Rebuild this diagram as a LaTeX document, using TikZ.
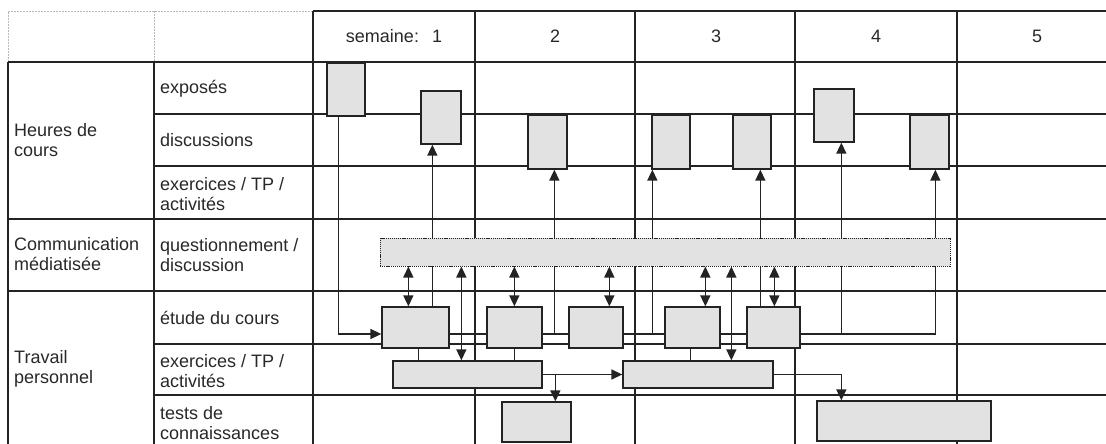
\documentclass[tikz,border=0pt]{standalone}
\usepackage{fontspec}
\setmainfont{Liberation Sans}
\usetikzlibrary{arrows.meta,calc,positioning}
\definecolor{ink}{RGB}{40,40,40}
\definecolor{rule}{RGB}{35,35,35}
\definecolor{shade}{RGB}{226,226,226}
\definecolor{faint}{RGB}{185,185,185}
\pgfdeclarelayer{bg}
\pgfsetlayers{bg,main}

\begin{document}
\begin{tikzpicture}[x=1pt,y=-1pt,
  grid/.style={rule,line width=1.3pt},
  faintline/.style={faint,line width=0.8pt,dash pattern=on 2pt off 1pt},
  lbl/.style={ink,anchor=west,align=left,inner sep=0pt,font=\fontsize{18}{20}\selectfont},
  hd/.style={ink,inner sep=0pt,font=\fontsize{18}{20}\selectfont},
  blk/.style={draw=rule,fill=shade,line width=1.3pt,inner sep=0pt},
  arr/.style={rule,line width=1.5pt,-{Triangle[length=11pt,width=10pt]}},
  dbl/.style={rule,line width=1.5pt,{Triangle[length=11pt,width=10pt]}-{Triangle[length=11pt,width=10pt]}},
  lnk/.style={rule,line width=1.5pt}]
\useasboundingbox (0,0) rectangle (1106,444);

% header
\node[hd] (w1) at (394,36) {semaine:\hspace{13pt}1};
\node[hd] (w2) at (555,36) {2};
\node[hd] (w3) at (716,36) {3};
\node[hd] (w4) at (876,36) {4};
\node[hd] (w5) at (1037,36) {5};

% row labels
\node[lbl] (lhc) at (14,140) {Heures de\\cours};
\node[lbl] (lcm) at (14,254) {Communication\\médiatisée};
\node[lbl] (ltp) at (14,369) {Travail\\personnel};
\node[lbl] (lex) at (160,89) {exposés};
\node[lbl] (ldi) at (160,140) {discussions};
\node[lbl] (lea) at (160,194) {exercices / TP /\\activités};
\node[lbl] (lqd) at (160,255) {questionnement /\\discussion};
\node[lbl] (let) at (160,318) {étude du cours};
\node[lbl] (leb) at (160,371) {exercices / TP /\\activités};
\node[lbl] (ltc) at (160,423) {tests de\\connaissances};

% course hours
\node[blk,minimum width=38pt,minimum height=53pt] (e1) at (346,89.5) {};
\node[blk,minimum width=40pt,minimum height=53pt] (d1) at (441,117.5) {};
\node[blk,minimum width=39pt,minimum height=54pt] (d2) at (547.5,142) {};
\node[blk,minimum width=38pt,minimum height=54pt] (d3) at (671,142) {};
\node[blk,minimum width=38pt,minimum height=54pt] (d4) at (752,142) {};
\node[blk,minimum width=40pt,minimum height=53pt] (d5) at (834,115.5) {};
\node[blk,minimum width=39pt,minimum height=54pt] (d6) at (929.5,142) {};

% forum
\node[blk,line width=1pt,dash pattern=on 1.2pt off 0.9pt,minimum width=570pt,minimum height=28pt] (fq) at (665,252) {};

% personal work
\node[blk,minimum width=67pt,minimum height=41pt] (s1) at (415.5,327.5) {};
\node[blk,minimum width=55pt,minimum height=41pt] (s2) at (514.5,327.5) {};
\node[blk,minimum width=54pt,minimum height=41pt] (s3) at (596,327.5) {};
\node[blk,minimum width=55pt,minimum height=41pt] (s4) at (692.5,327.5) {};
\node[blk,minimum width=53pt,minimum height=41pt] (s5) at (773.5,327.5) {};
\node[blk,minimum width=149pt,minimum height=27pt] (x1) at (467.5,374.5) {};
\node[blk,minimum width=150pt,minimum height=27pt] (x2) at (698,374.5) {};
\node[blk,minimum width=69pt,minimum height=40pt] (t1) at (536.5,422) {};
\node[blk,minimum width=174pt,minimum height=40pt] (t2) at (904,421) {};

\begin{pgfonlayer}{bg}
% table
\draw[faintline] (8,62) -- (8,11) -- (313,11);
\draw[faintline] (154,11) -- (154,62);
\draw[grid] (313,11) -- (1106,11);
\foreach \y in {62,219,291}
  \draw[grid] (8,\y) -- (1106,\y);
\foreach \y in {114,166,344,395}
  \draw[grid] (154,\y) -- (1106,\y);
\draw[grid] (8,62) -- (8,444);
\draw[grid] (154,62) -- (154,444);
\foreach \x in {313,475,635,795,957}
  \draw[grid] (\x,11) -- (\x,444);

% study links
\coordinate (lk) at ($(s1.west)+(0,6.5)$);
\draw[arr] ($(e1.south west)+(12,0)$) |- (lk -| s1.west);
\draw[lnk] (lk -| s1.east) -- (lk -| s2.west);
\draw[lnk] (lk -| s2.east) -- (lk -| s3.west);
\draw[lnk] (lk -| s3.east) -- (lk -| s4.west);
\draw[lnk] (lk -| s4.east) -- (lk -| s5.west);
\draw[arr] (lk -| s5.east) -| ($(d6.south west)+(26,0)$);

% up to the course hours
\path ($(d1.south west)+(12,0)$) coordinate (u1)
      ($(d2.south west)+(27,0)$) coordinate (u2)
      ($(d3.south west)+(1,0)$) coordinate (u3)
      ($(d4.south west)+(28,0)$) coordinate (u4)
      ($(d5.south west)+(28,0)$) coordinate (u5);
\draw[arr] (s1.north -| u1) -- (u1);
\draw[arr] (lk -| u2) -- (u2);
\draw[arr] (lk -| u3) -- (u3);
\draw[arr] (s5.north -| u4) -- (u4);
\draw[arr] (lk -| u5) -- (u5);

% forum exchanges
\foreach \n/\dx in {s1/27,s2/28,s3/41,s4/41,s5/28,x1/69,x2/109} {
  \path ($(\n.north west)+(\dx,0)$) coordinate (v);
  \draw[dbl] (v) -- (v |- fq.south);
}

% study to exercises
\foreach \n/\dx/\m in {s1/37/x1,s2/28/x1,s4/26/x2} {
  \path ($(\n.south west)+(\dx,0)$) coordinate (v);
  \draw[lnk] (v) -- (v |- \m.north);
}

% exercises to tests
\draw[arr] (x1.east) -- (x2.west);
\path ($(t1.north west)+(54,0)$) coordinate (v);
\draw[arr] (x1.east -| v) -- (v);
\draw[arr] (x2.east) -| ($(t2.north west)+(25,0)$);
\end{pgfonlayer}
\end{tikzpicture}
\end{document}
